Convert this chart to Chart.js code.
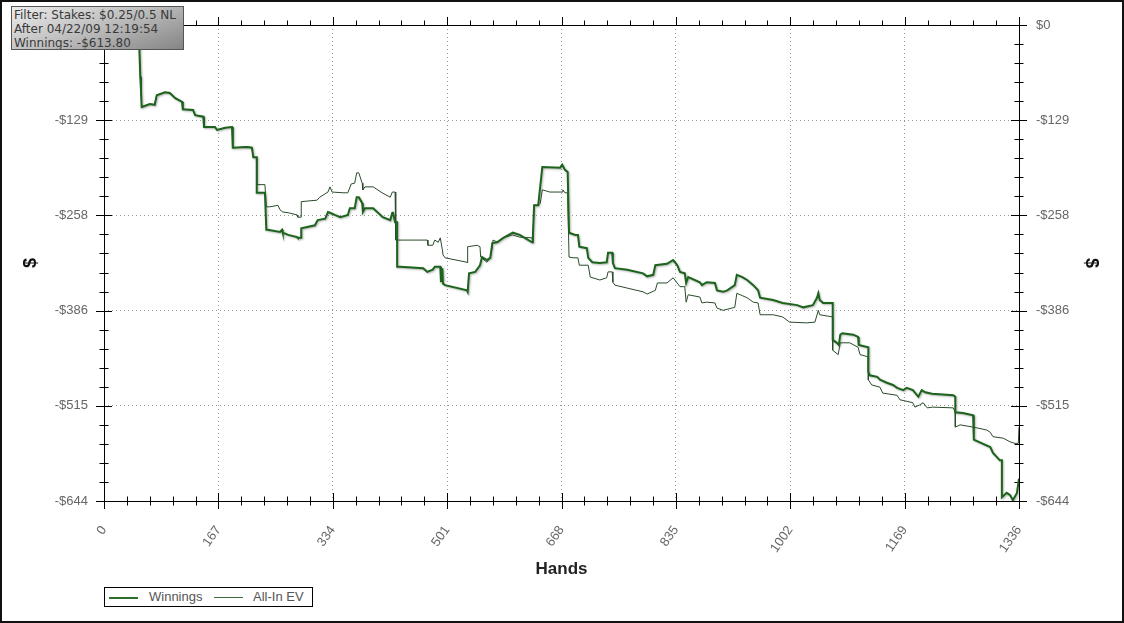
<!DOCTYPE html>
<html>
<head>
<meta charset="utf-8">
<script src="https://cdn.jsdelivr.net/npm/chart.js@4.4.1/dist/chart.umd.min.js"></script>
<style>
  body { margin: 0; background: #fff; }
  #wrap { position: relative; width: 1124px; height: 623px; }
  #info {
    position: absolute; left: 11px; top: 6px; width: 169px; height: 41px;
    border: 1px solid #555;
    background: linear-gradient(160deg, #ececec 0%, #bdbdbd 50%, #858585 100%);
    font: 12px "DejaVu Sans"; color: #3a3a3a; line-height: 14px; padding: 1px 0 0 2px;
    white-space: nowrap; overflow: hidden;
  }
  #legend {
    position: absolute; left: 104px; top: 587px; width: 207px; height: 18px;
    border: 1px solid #000; background: #fff;
    font: 13px "Liberation Sans"; color: #555;
  }
  #legend span { position: absolute; top: 1px; }
  #legend i { position: absolute; top: 9px; width: 29px; }
</style>
</head>
<body>
<div id="wrap">
  <canvas id="charts" width="1124" height="623"></canvas>
  <div id="info">Filter: Stakes: $0.25/0.5 NL<br>After 04/22/09 12:19:54<br>Winnings: -$613.80</div>
  <div id="legend">
    <i style="left:4px; height:2px; background:#2b6e2b;"></i><span style="left:44px;">Winnings</span>
    <i style="left:109px; height:1px; top:9px; background:#3d6a3d;"></i><span style="left:148px;">All-In EV</span>
  </div>
</div>
<script>
Chart.defaults.font.family = "Liberation Sans";

const xTicks = [0, 167, 334, 501, 668, 835, 1002, 1169, 1336];
const yTicks = [-644, -515.2, -386.4, -257.6, -128.8, 0];
const yTickLabels = ['-$644', '-$515', '-$386', '-$258', '-$129', '$0'];

// winnings (hand number / dollars)
const winHands = [
  0,16,38,51,53,54,55,67,74,77,
  89,96,104,114,115,130,133,145,146,162,
  165,177,187,188,209,216,218,223,223,235,
  237,239,257,260,261,269,282,283,288,288,
  308,312,323,327,330,337,345,356,359,366,
  369,372,377,378,381,393,407,418,421,422,
  425,428,428,432,466,472,480,483,491,492,
  494,495,498,530,531,533,542,549,552,559,
  564,567,574,583,597,607,625,626,628,634,
  640,666,669,673,677,679,688,692,694,705,
  707,713,724,734,736,742,743,746,764,787,
  793,802,805,822,831,837,841,848,850,853,
  870,873,880,892,895,904,910,921,924,932,
  939,948,955,958,977,991,1012,1021,1035,1041,
  1043,1045,1050,1064,1064,1070,1073,1075,1078,1094,
  1101,1102,1116,1116,1118,1129,1133,1143,1152,1158,
  1167,1172,1181,1189,1194,1199,1209,1240,1243,1243,
  1254,1269,1270,1282,1294,1298,1308,1311,1311,1318,
  1323,1327,1333,1336
];
const winnings = [
  0,-11,-7,-14,-70,-88,-111,-107,-108,-95,
  -91,-92,-99,-104,-114,-115,-122,-124,-138,-138,
  -142,-139,-138,-166,-165,-166,-179,-179,-227,-227,
  -277,-277,-280,-277,-281,-284,-287,-288,-288,-275,
  -271,-264,-262,-253,-254,-257,-260,-257,-248,-248,
  -233,-233,-241,-253,-248,-248,-260,-264,-254,-254,
  -267,-267,-327,-327,-329,-334,-331,-327,-327,-348,
  -329,-350,-352,-359,-361,-336,-334,-325,-314,-318,
  -315,-295,-294,-288,-281,-284,-294,-291,-244,-244,
  -192,-193,-189,-196,-199,-281,-284,-284,-300,-302,
  -315,-321,-322,-321,-308,-308,-322,-329,-331,-336,
  -340,-338,-325,-323,-318,-325,-334,-336,-349,-341,
  -348,-352,-348,-349,-359,-361,-359,-352,-338,-341,
  -345,-352,-359,-369,-372,-376,-379,-382,-379,-369,
  -363,-372,-376,-376,-426,-430,-433,-419,-417,-419,
  -422,-433,-436,-469,-474,-476,-480,-484,-487,-491,
  -494,-491,-494,-503,-494,-497,-499,-501,-503,-524,
  -525,-528,-561,-566,-571,-579,-589,-589,-639,-633,
  -636,-643,-633,-613.8
];

// all-in EV
const evHands = [
  0,16,38,51,53,54,55,67,74,77,
  89,96,104,114,115,130,133,145,146,162,
  165,177,187,188,209,216,218,223,223,235,
  237,242,254,257,261,269,282,283,288,288,
  311,315,327,330,333,349,356,361,366,369,
  372,377,378,381,393,406,418,421,425,426,
  451,472,473,480,483,488,491,494,495,498,
  530,531,531,545,549,550,559,564,567,568,
  575,583,596,607,625,626,628,634,637,640,
  651,669,670,673,677,679,685,692,694,707,
  710,724,734,736,742,743,746,787,793,805,
  808,822,831,841,848,850,853,870,873,880,
  892,895,904,921,924,939,948,955,958,977,
  991,1001,1026,1038,1043,1045,1064,1064,1072,1075,
  1089,1101,1104,1116,1116,1121,1133,1137,1158,1162,
  1181,1184,1191,1196,1202,1210,1240,1243,1243,1250,
  1269,1289,1294,1298,1313,1323,1330,1335,1336
];
const allInEv = [
  0,-11,-7,-14,-70,-88,-111,-107,-108,-95,
  -91,-92,-99,-104,-114,-115,-122,-124,-138,-138,
  -142,-139,-138,-166,-165,-166,-179,-179,-216,-216,
  -246,-246,-244,-250,-253,-254,-257,-260,-260,-239,
  -237,-233,-226,-219,-226,-227,-227,-215,-214,-200,
  -200,-214,-223,-219,-219,-227,-233,-226,-226,-291,
  -291,-291,-298,-298,-291,-294,-288,-304,-311,-315,
  -321,-322,-300,-298,-300,-314,-321,-315,-300,-291,
  -294,-288,-284,-287,-288,-295,-244,-244,-241,-223,
  -226,-226,-223,-227,-227,-314,-315,-315,-325,-325,
  -341,-345,-342,-334,-334,-348,-352,-361,-364,-359,
  -349,-349,-342,-354,-354,-375,-365,-368,-376,-375,
  -376,-383,-386,-382,-363,-369,-375,-376,-392,-392,
  -395,-402,-403,-402,-386,-392,-395,-440,-446,-430,
  -430,-436,-446,-449,-480,-487,-490,-498,-501,-507,
  -511,-517,-514,-511,-518,-517,-518,-524,-544,-541,
  -544,-548,-551,-557,-559,-564,-566,-566,-544
];

function toPoints(xs, ys) {
  let pts = [];
  for (let i = 0; i < xs.length; i++) {
    pts.push({ x: xs[i], y: ys[i] });
  }
  return pts;
}

// frame round the plot with ticks that cross it, plus outer border
const framePlugin = {
  id: 'frame',
  beforeDatasetsDraw(chart) {
    const { ctx, chartArea: a, scales } = chart;
    const x = scales.x, y = scales.y;
    ctx.save();
    ctx.strokeStyle = '#000';
    ctx.lineWidth = 1;
    ctx.strokeRect(Math.round(a.left) + 0.5, Math.round(a.top) + 0.5,
      Math.round(a.right - a.left), Math.round(a.bottom - a.top));
    ctx.beginPath();
    for (let i = 0; i < xTicks.length; i++) {
      for (let k = 0; k < 5; k++) {
        if (i == xTicks.length - 1 && k > 0) break;
        const v = xTicks[i] + k * (xTicks[1] - xTicks[0]) / 5;
        const px = Math.round(x.getPixelForValue(v)) + 0.5;
        const len = k == 0 ? 8 : 4.5;
        ctx.moveTo(px, a.bottom - len); ctx.lineTo(px, a.bottom + len);
        ctx.moveTo(px, a.top - len); ctx.lineTo(px, a.top);
      }
    }
    for (let i = 0; i < yTicks.length; i++) {
      for (let k = 0; k < 5; k++) {
        if (i == yTicks.length - 1 && k > 0) break;
        const v = yTicks[i] + k * (yTicks[1] - yTicks[0]) / 5;
        const py = Math.round(y.getPixelForValue(v)) + 0.5;
        const len = k == 0 ? 8 : 4.5;
        ctx.moveTo(a.left - len, py); ctx.lineTo(a.left + len, py);
        ctx.moveTo(a.right - len, py); ctx.lineTo(a.right + len, py);
      }
    }
    ctx.stroke();
    ctx.restore();
  },
  afterDraw(chart) {
    const ctx = chart.ctx;
    ctx.save();
    ctx.strokeStyle = '#111';
    ctx.lineWidth = 2;
    ctx.strokeRect(1, 1, chart.width - 2, chart.height - 2);
    ctx.restore();
  }
};

// soft grey halo under the winnings line
const shadowPlugin = {
  id: 'shadow',
  beforeDatasetDraw(chart, args) {
    if (args.index == 0) {
      chart.ctx.save();
      chart.ctx.shadowColor = 'rgba(60,60,60,0.4)';
      chart.ctx.shadowBlur = 2;
      chart.ctx.shadowOffsetX = 1;
      chart.ctx.shadowOffsetY = 1;
    }
  },
  afterDatasetDraw(chart, args) {
    if (args.index == 0) chart.ctx.restore();
  }
};

const tickFont = { family: 'Liberation Sans', size: 13 };

new Chart(document.getElementById('charts'), {
  type: 'line',
  data: {
    datasets: [
      {
        label: 'Winnings',
        data: toPoints(winHands, winnings),
        borderColor: '#1c631c',
        borderWidth: 2,
        pointRadius: 0,
        tension: 0
      },
      {
        label: 'All-In EV',
        data: toPoints(evHands, allInEv),
        borderColor: '#2a4a2a',
        borderWidth: 1,
        pointRadius: 0,
        tension: 0
      }
    ]
  },
  options: {
    responsive: false,
    animation: false,
    devicePixelRatio: 1,
    layout: { padding: { left: 0, right: 0, top: 25, bottom: 0 } },
    plugins: {
      legend: { display: false },
      tooltip: { enabled: false }
    },
    scales: {
      x: {
        type: 'linear',
        min: 0,
        max: 1336,
        afterBuildTicks: s => { s.ticks = xTicks.map(v => ({ value: v })); },
        afterFit: s => { s.height = 122; },
        ticks: {
          minRotation: 55, maxRotation: 55, padding: 22,
          color: '#666', font: tickFont,
          callback: v => String(v)
        },
        grid: { color: '#999', drawTicks: false },
        border: { display: false, dash: [1, 3] },
        title: {
          display: true, text: 'Hands', color: '#222',
          font: { family: 'Liberation Sans', size: 17, weight: 'bold' },
          padding: { top: 0, bottom: 43 }
        }
      },
      y: {
        position: 'left',
        min: -644,
        max: 0,
        afterBuildTicks: s => { s.ticks = yTicks.map(v => ({ value: v })); },
        afterFit: s => { s.width = 104; },
        ticks: {
          padding: 16, color: '#666', font: tickFont,
          callback: v => yTickLabels[yTicks.indexOf(v)]
        },
        grid: { color: '#999', drawTicks: false },
        border: { display: false, dash: [1, 3] },
        title: {
          display: true, text: '$', color: '#111',
          font: { family: 'Liberation Sans', size: 18, weight: 'bold' },
          padding: { top: 20, bottom: 0 }
        }
      },
      y2: {
        position: 'right',
        min: -644,
        max: 0,
        afterBuildTicks: s => { s.ticks = yTicks.map(v => ({ value: v })); },
        afterFit: s => { s.width = 105; },
        ticks: {
          padding: 17, color: '#666', font: tickFont,
          callback: v => yTickLabels[yTicks.indexOf(v)]
        },
        grid: { display: false, drawTicks: false },
        border: { display: false },
        title: {
          display: true, text: '$', color: '#111',
          font: { family: 'Liberation Sans', size: 18, weight: 'bold' },
          padding: { top: 22, bottom: 0 }
        }
      }
    }
  },
  plugins: [framePlugin, shadowPlugin]
});
</script>
</body>
</html>
